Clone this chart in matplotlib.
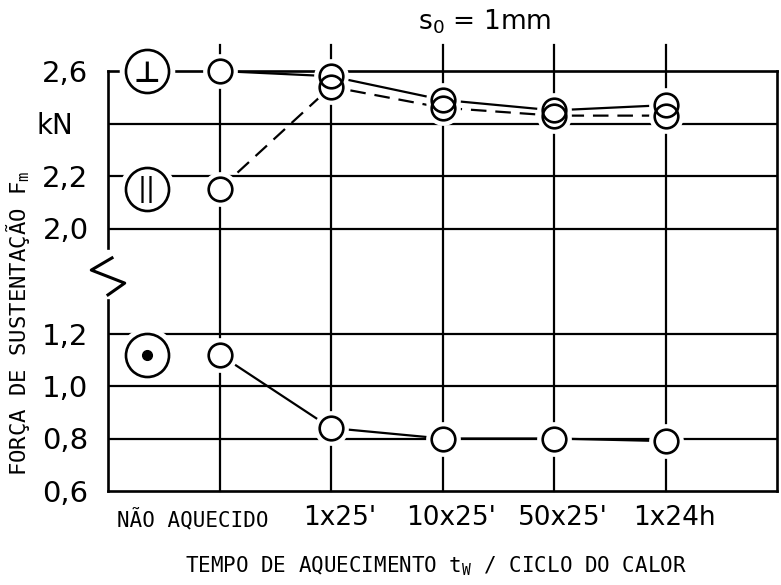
import numpy as np
import matplotlib
matplotlib.use("Agg")
import matplotlib.pyplot as plt
from matplotlib.transforms import ScaledTranslation

plt.rcParams['mathtext.fontset'] = 'custom'
plt.rcParams['mathtext.rm'] = 'DejaVu Sans Mono'
plt.rcParams['mathtext.it'] = 'DejaVu Sans Mono'

sans = ['DejaVu Sans']
mono = ['DejaVu Sans Mono', 'DejaVu Sans']

categories = ["NÃO AQUECIDO", "1x25'", "10x25'", "50x25'", "1x24h"]
perp = [2.60, 2.58, 2.49, 2.45, 2.47]      # ⊥
para = [2.15, 2.54, 2.46, 2.43, 2.43]      # ||
cross = [1.12, 0.84, 0.80, 0.80, 0.79]     # •

ytick_vals = [0.6, 0.8, 1.0, 1.2, 2.0, 2.2, 2.4, 2.6]
ytick_labels = ["0,6", "0,8", "1,0", "1,2", "2,0", "2,2", "kN", "2,6"]
grid_vals = [0.8, 1.0, 1.2, 2.0, 2.2, 2.4]

# broken axis: 1.2 .. 2.0 squeezed together
def fold(v):
    v = np.asarray(v, dtype=float)
    return np.where(v >= 1.6, v - 0.4, v)

x = np.arange(len(categories))

fig = plt.figure(figsize=(7.81, 5.85), dpi=100)
ax = fig.add_axes([108/781, 1-491/585, 669/781, 420/585])
ax.set_xlim(-1, len(categories))
ax.set_ylim(0.6, 2.2)

lw = 1.6
for g in grid_vals:
    ax.axhline(fold(g), color='k', lw=lw, zorder=1)
for xi in x:
    ax.plot([xi, xi], [0, 1.062], color='k', lw=lw, zorder=1,
            transform=ax.get_xaxis_transform(), clip_on=False)

ax.plot(x, fold(perp), color='k', lw=lw, zorder=2, clip_on=False)
ax.plot(x, fold(para), color='k', lw=lw, dashes=(7, 4), zorder=2)
ax.plot(x, fold(cross), color='k', lw=lw, zorder=2)

# series symbols on the left, level with the first point
sx = -0.65
firsts = [perp[0], para[0], cross[0]]
for v in firsts:
    ax.plot(sx, fold(v), 'o', ms=40, mfc='white', mec='none', zorder=3, clip_on=False)
    ax.plot(sx, fold(v), 'o', ms=31, mfc='white', mec='k', mew=1.9, zorder=5, clip_on=False)
ax.text(sx, fold(perp[0]) - 0.01, "⊥", ha='center', va='center', fontsize=21,
        fontweight='bold', zorder=6)
ax.text(sx, fold(para[0]), "||", ha='center', va='center', fontsize=19,
        family=sans, zorder=6)
ax.plot(sx, fold(cross[0]), 'o', ms=7, color='k', zorder=6)

for s in (perp, para, cross):
    ax.plot(x, fold(s), 'o', ms=25, mfc='white', mec='none', zorder=3, clip_on=False)
for s in (perp, para, cross):
    ax.plot(x, fold(s), 'o', ms=17, mfc='none', mec='k', mew=1.9, zorder=5, clip_on=False)

# frame with the break mark on the left side
for side in ('top', 'right', 'bottom'):
    ax.spines[side].set_linewidth(1.9)
ax.spines['left'].set_visible(False)
tr = ax.transAxes
ax.plot([0, 0], [1, 0.579], color='k', lw=1.9, transform=tr, clip_on=False)
ax.plot([0, 0], [0.455, 0], color='k', lw=1.9, transform=tr, clip_on=False)
ax.plot([0.006, -0.025, 0.025, 0.0], [0.555, 0.526, 0.495, 0.467],
        color='k', lw=2.2, transform=tr, clip_on=False)

ax.set_yticks(fold(ytick_vals))
ax.set_yticklabels(ytick_labels, family=sans, fontsize=21)
ax.set_xticks(x)
ax.set_xticklabels(categories, family=sans, fontsize=19)
ax.tick_params(length=0)
ax.tick_params(axis='y', pad=14)
ax.tick_params(axis='x', pad=10)

xl = ax.get_xticklabels()
xl[0].set_family(mono)
xl[0].set_fontsize(15)
xl[0].set_transform(xl[0].get_transform() + ScaledTranslation(-0.27, -0.03, fig.dpi_scale_trans))
for lab in xl[1:]:
    lab.set_transform(lab.get_transform() + ScaledTranslation(0.09, 0, fig.dpi_scale_trans))
yl = ax.get_yticklabels()
kn = ytick_labels.index("kN")
yl[kn].set_fontsize(20)
yl[kn].set_transform(yl[kn].get_transform() + ScaledTranslation(-0.15, 0, fig.dpi_scale_trans))

ax.set_xlabel(r"TEMPO DE AQUECIMENTO $\mathregular{t_W}$ / CICLO DO CALOR",
              family=mono, fontsize=15)
ax.xaxis.set_label_coords(0.49, -0.152)
ax.set_ylabel(r"FORÇA DE SUSTENTAÇÃO $\mathregular{F_m}$", family=mono, fontsize=16)
ax.yaxis.set_label_coords(-0.113, 0.40)

ax.text(0.5635, 1.117, r"$\mathregular{s_0}$ = 1mm", transform=tr, ha='center',
        va='center', fontsize=19, family=sans)

fig.savefig("out.png", dpi=100)
